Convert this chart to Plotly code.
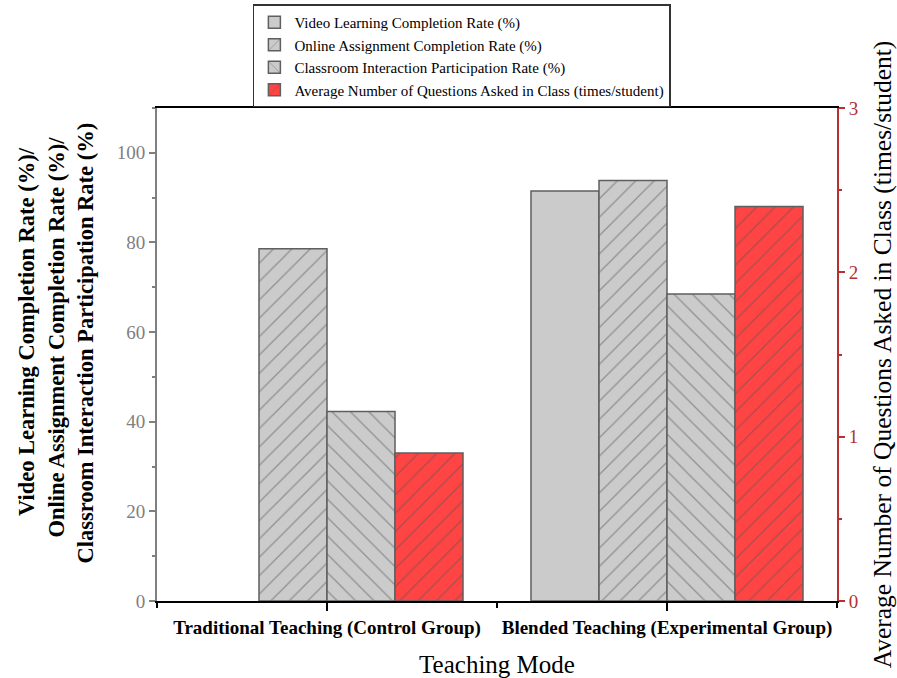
import plotly.graph_objects as go

categories = ["Traditional Teaching (Control Group)", "Blended Teaching (Experimental Group)"]
video_rate = [None, 91.5]
assignment_rate = [78.6, 93.8]
interaction_rate = [42.3, 68.5]
questions_avg = [0.90, 2.40]

series_names = [
    "Video Learning Completion Rate (%)",
    "Online Assignment Completion Rate (%)",
    "Classroom Interaction Participation Rate (%)",
    "Average Number of Questions Asked in Class (times/student)",
]

x_pos = list(range(1, len(categories) + 1))

FONT = "Liberation Serif, Times New Roman, serif"
GRAY_FILL = "#CBCBCB"
EDGE = "#5f5f5f"
RED = "#FF4444"
AXIS_RED = "#B5302F"

fig = go.Figure()

def add_bar(name, y, fill, shape, yaxis):
    marker = dict(color=fill, line=dict(color=EDGE, width=1.5))
    if shape:
        marker["pattern"] = dict(shape=shape, fgcolor="#555555", bgcolor=fill,
                                 size=13, solidity=0.1, fillmode="overlay")
    fig.add_trace(go.Bar(x=x_pos, y=y, name=name, marker=marker, yaxis=yaxis,
                         offsetgroup=name, alignmentgroup="all"))

add_bar(series_names[0], video_rate, GRAY_FILL, "", "y")
add_bar(series_names[1], assignment_rate, GRAY_FILL, "/", "y")
add_bar(series_names[2], interaction_rate, GRAY_FILL, "\\", "y")
add_bar(series_names[3], questions_avg, RED, "/", "y2")

NB = "&nbsp;"
left_title = ("<b>" + NB * 8 + "Video Learning Completion Rate (%)/<br>"
              + NB * 6 + "Online Assignment Completion Rate (%)/<br>"
              + NB * 4 + "Classroom Interaction Participation Rate (%)</b>")

fig.update_layout(
    width=897, height=678,
    margin=dict(l=157, r=60, t=108, b=77, autoexpand=False),
    paper_bgcolor="white", plot_bgcolor="white",
    font=dict(family=FONT, color="black"),
    barmode="group", bargap=0.2, bargroupgap=0,
    showlegend=True,
    legend=dict(
        x=0.141, y=1.21, xanchor="left", yanchor="top",
        bordercolor="#333333", borderwidth=1.5, bgcolor="white",
        font=dict(family=FONT, size=15, color="black"),
        tracegroupgap=0, itemwidth=30,
    ),
    xaxis=dict(
        range=[0.5, 2.5], tickvals=x_pos, ticktext=categories,
        showline=True, linecolor="black", linewidth=2, mirror=True,
        ticks="outside", ticklen=8, tickwidth=1.5, tickcolor="black",
        minor=dict(tick0=0.5, dtick=1, ticks="outside", ticklen=5, tickcolor="black", tickwidth=1.5),
        showgrid=False, zeroline=False, automargin=False,
        tickfont=dict(family=FONT, size=19, color="black", weight="bold"),
        title=dict(text="Teaching Mode", font=dict(family=FONT, size=25, color="black"), standoff=18),
    ),
    yaxis=dict(
        range=[0, 110], tickvals=[0, 20, 40, 60, 80, 100],
        showline=True, linecolor="#808080", linewidth=2,
        ticks="outside", ticklen=6, tickwidth=1.5, tickcolor="#808080",
        minor=dict(tick0=0, dtick=10, ticks="outside", ticklen=3, tickcolor="#808080", tickwidth=1.5),
        showgrid=False, zeroline=False, automargin=False,
        tickfont=dict(family=FONT, size=19, color="#808080"),
        title=dict(text=left_title, font=dict(family=FONT, size=22.5, color="black"), standoff=17),
    ),
    yaxis2=dict(
        range=[0, 3], tickvals=[0, 1, 2, 3], overlaying="y", side="right",
        showline=True, linecolor=AXIS_RED, linewidth=2,
        ticks="outside", ticklen=6, tickwidth=1.5, tickcolor=AXIS_RED,
        minor=dict(tick0=0, dtick=0.5, ticks="outside", ticklen=3, tickcolor=AXIS_RED, tickwidth=1.5),
        showgrid=False, zeroline=False, automargin=False,
        tickfont=dict(family=FONT, size=19, color=AXIS_RED),
        title=dict(text="Average Number of Questions Asked in Class (times/student)",
                   font=dict(family=FONT, size=25.5, color="black"), standoff=16),
    ),
)

fig.write_html("out.html", config={"displayModeBar": False},
               post_script="document.body.style.margin='0px';")
